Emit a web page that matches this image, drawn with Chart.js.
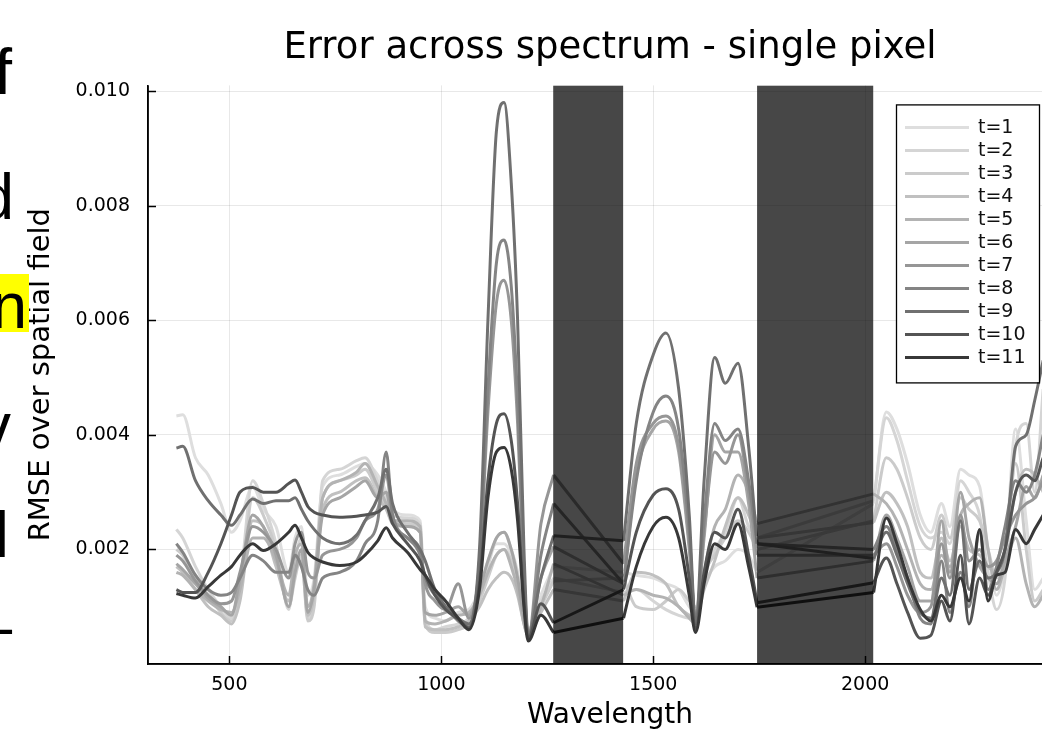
<!DOCTYPE html>
<html>
<head>
<meta charset="utf-8">
<script src="https://cdn.jsdelivr.net/npm/chart.js@4.4.1/dist/chart.umd.min.js"></script>
<style>
  html, body { margin: 0; padding: 0; background: #fff; overflow: hidden; width: 1042px; height: 735px; position: relative; }
  #wrap { position: absolute; left: 0; top: 0; width: 1072px; height: 735px; }
  .cut { position: absolute; font-family: 'Liberation Sans', 'DejaVu Sans', sans-serif; font-size: 64px; line-height: 1; color: #000; white-space: nowrap; }
  .hl { position: absolute; left: 0; top: 274px; width: 29px; height: 58px; background: #ffff00; }
</style>
</head>
<body>
<div id="wrap"><canvas id="c" width="1072" height="735"></canvas></div>
<div class="hl"></div>
<div class="cut" style="right:1030px; top:40px;">f</div>
<div class="cut" style="right:1028px; top:165px;">d</div>
<div class="cut" style="right:1015px; top:274px;">n</div>
<div class="cut" style="right:1031px; top:394px;">v</div>
<div class="cut" style="right:1033px; top:503px;">l</div>
<div class="cut" style="right:1030px; top:594px;">–</div>
<script>
// ---------------- data (RMSE values in units of 0.001) ----------------
const wavelengths = [375,390,420,450,480,505,525,555,580,610,640,655,670,685,700,720,760,800,820,850,870,885,920,950,962,985,1010,1040,1065,1090,1110,1130,1148,1165,1180,1195,1205,1235,1265,1430,1460,1500,1530,1560,1585,1600,1620,1645,1670,1700,1725,1745,2020,2050,2075,2100,2130,2155,2180,2200,2225,2245,2270,2290,2310,2330,2355,2380,2400,2420];

const t1 = [4.33,4.35,3.6,3.3,2.8,2.3,2.5,3.1,2.7,2.4,1.6,2.2,2.4,1.2,1.5,3.1,3.3,3.45,3.5,3.3,3.0,2.7,2.6,2.5,1.0,0.8,0.75,0.9,0.95,1.3,1.8,2.1,2.1,1.9,1.5,0.8,0.6,1.2,1.7,1.6,1.55,1.5,1.4,1.3,1.0,0.9,1.4,1.7,1.8,2.0,1.9,1.6,2.8,4.4,4.1,3.5,2.6,2.3,2.8,2.4,3.4,3.3,3.1,2.0,1.2,1.8,4.1,2.5,1.3,1.5];
const t2 = [2.35,2.2,1.7,1.3,1.0,0.8,1.4,3.2,2.8,2.1,0.95,1.8,2.2,0.8,1.1,3.2,3.4,3.55,3.6,3.2,2.9,2.6,2.55,2.45,0.8,0.6,0.65,0.7,0.8,1.2,1.7,2.2,2.3,2.0,1.6,0.9,0.6,1.1,1.5,1.25,1.3,1.1,0.95,0.85,0.8,0.85,1.5,2.0,2.3,2.9,2.4,2.2,2.85,4.3,3.9,3.2,2.4,2.2,2.3,2.1,3.2,3.0,2.6,1.6,0.95,1.5,3.8,4.2,3.0,4.8];
const t3 = [2.0,1.9,1.5,1.2,0.9,0.75,1.2,2.9,2.6,2.0,1.0,1.5,1.9,0.75,1.0,2.9,3.2,3.3,3.4,3.0,2.75,2.5,2.45,2.35,0.7,0.55,0.55,0.6,0.7,1.1,1.5,1.9,2.0,1.8,1.4,0.8,0.55,1.0,1.45,1.5,1.0,0.95,1.1,1.3,1.1,1.0,1.6,1.9,2.2,2.5,2.3,2.0,2.5,3.6,3.4,2.9,2.2,2.0,2.6,2.2,2.9,2.7,2.5,2.0,1.5,1.9,3.5,2.0,1.1,1.3];
const t4 = [1.7,1.6,1.3,1.0,0.85,0.7,1.1,2.5,2.4,1.7,1.1,1.6,1.8,0.85,1.2,2.7,3.0,3.2,3.25,2.9,2.7,2.45,2.4,2.3,0.65,0.6,0.6,0.65,0.75,1.0,1.3,1.5,1.6,1.5,1.2,0.7,0.5,0.9,1.3,1.1,1.6,1.55,1.4,1.0,0.85,0.8,1.3,1.8,2.4,2.9,2.6,2.2,2.47,3.0,2.8,2.4,1.6,1.5,2.2,1.8,2.4,2.0,1.9,1.7,1.6,2.0,3.0,3.4,3.3,3.0];
const t5 = [1.6,1.55,1.3,1.1,0.95,0.9,1.3,2.2,2.2,1.8,1.2,1.9,2.1,1.0,1.4,2.9,3.2,3.35,3.5,3.1,2.8,2.5,2.5,2.4,0.75,0.7,0.75,0.85,0.9,1.2,1.6,1.9,2.0,1.7,1.3,0.7,0.5,1.0,1.75,1.2,1.3,1.2,1.15,1.0,0.8,0.7,1.6,2.4,2.7,3.3,3.0,2.45,2.97,2.8,2.5,2.0,1.4,1.3,1.9,1.7,2.6,2.8,2.9,2.0,1.3,1.7,2.2,1.4,1.0,1.2];
const t6 = [1.75,1.65,1.4,1.15,1.0,0.85,1.5,2.6,2.4,1.9,1.0,1.6,2.0,0.9,1.3,2.6,2.9,3.1,3.2,2.9,3.0,2.5,2.4,2.3,0.9,0.85,0.9,1.0,0.85,1.3,1.8,2.2,2.3,2.0,1.5,0.8,0.5,1.5,2.05,1.4,3.3,4.1,4.24,3.7,2.0,0.8,2.2,4.0,3.7,3.7,2.8,1.5,1.8,2.6,2.2,1.7,1.1,1.1,2.5,1.6,3.0,2.2,1.7,1.5,1.4,1.8,2.4,3.1,2.9,3.3];
const t7 = [1.9,1.8,1.45,1.2,1.05,1.1,1.6,2.4,2.3,2.0,1.5,2.1,2.3,1.6,1.5,1.9,2.0,2.2,2.5,2.7,3.3,2.6,2.2,2.0,1.4,1.1,0.95,1.4,0.8,1.7,4.4,6.3,6.7,6.0,4.2,1.5,0.45,2.45,3.3,1.75,3.5,4.2,4.33,3.8,2.1,0.75,2.3,3.7,3.5,4.0,3.0,1.9,1.9,2.1,1.7,1.2,0.9,1.0,2.1,1.5,2.6,1.8,2.0,1.7,1.8,2.2,2.6,2.8,2.9,3.2];
const t8 = [2.1,1.95,1.55,1.3,1.2,1.25,1.5,1.9,1.8,1.6,1.6,1.9,1.7,1.3,1.2,1.5,1.6,1.8,2.1,2.5,3.7,2.6,2.2,1.9,1.5,1.2,1.0,0.75,0.65,1.8,4.8,7.0,7.4,6.6,4.6,1.6,0.5,1.9,2.8,1.4,3.2,4.4,4.68,4.1,2.3,0.7,2.5,4.2,3.9,4.1,3.2,2.1,2.0,2.4,2.0,1.5,0.8,0.7,1.8,0.9,1.6,1.0,2.3,1.3,1.7,2.4,3.2,3.0,3.3,4.0];
const t9 = [3.77,3.8,3.2,2.85,2.6,2.42,2.6,2.88,2.8,2.85,2.85,2.9,2.7,2.5,2.35,2.2,2.1,2.25,2.5,2.9,3.4,2.8,2.3,2.0,1.8,1.3,1.0,0.8,0.7,2.0,6.0,9.3,9.8,8.4,6.0,2.0,0.5,1.5,2.24,2.15,4.2,5.4,5.78,4.8,2.6,0.7,3.2,5.35,4.9,5.25,3.8,2.1,1.84,2.3,1.9,1.4,0.9,0.8,1.5,1.2,2.5,1.3,1.8,1.5,1.6,2.0,3.8,4.0,4.6,5.3];
const t10 = [1.3,1.25,1.25,1.6,2.1,2.6,3.0,3.08,3.0,3.0,3.15,3.21,3.0,2.75,2.65,2.6,2.56,2.58,2.6,2.65,2.75,2.45,2.1,1.8,1.55,1.2,0.95,0.78,0.63,1.4,3.2,4.2,4.37,3.9,2.8,1.1,0.45,1.05,0.72,1.3,2.3,2.95,3.06,2.7,1.5,0.6,1.6,2.3,2.2,2.7,1.9,1.07,1.42,1.85,1.4,0.9,0.45,0.5,1.1,0.75,1.9,0.7,1.5,1.2,1.6,2.0,3.0,3.3,3.2,3.6];
const t11 = [1.23,1.2,1.15,1.35,1.55,1.7,1.9,2.1,1.98,2.1,2.3,2.42,2.2,1.95,1.85,1.78,1.72,1.78,1.9,2.15,2.38,2.2,1.95,1.65,1.55,1.3,1.1,0.8,0.6,1.3,2.9,3.7,3.78,3.4,2.5,1.0,0.4,0.85,0.55,0.8,1.7,2.4,2.56,2.2,1.2,0.55,1.4,2.1,2.0,2.45,1.7,0.99,1.25,2.55,2.1,1.5,0.95,0.75,1.2,1.0,1.5,1.1,2.35,1.1,1.55,1.6,2.35,2.1,2.35,2.6];

const seriesValues = [t1, t2, t3, t4, t5, t6, t7, t8, t9, t10, t11];
const seriesNames = ['t=1','t=2','t=3','t=4','t=5','t=6','t=7','t=8','t=9','t=10','t=11'];
const seriesColors = ['#dedede','#d5d5d5','#cbcbcb','#c0c0c0','#b3b3b3','#a5a5a5','#969696','#848484','#707070','#545454','#383838'];

const xTicks = [500, 1000, 1500, 2000];
const yTicks = [0.002, 0.004, 0.006, 0.008, 0.010];
const bandStarts = [1264, 1745];
const bandEnds = [1429, 2019];

const FONT = "'DejaVu Sans', sans-serif";

// Build points; a null is placed inside each shaded band so the curve is split there
// (the band-crossing part is drawn as a straight segment by the plugin below).
const gapAfter = [];   // indices (in wavelengths) of the last point before each band
wavelengths.forEach((w, j) => {
  if (j < wavelengths.length - 1) {
    bandStarts.forEach((s, b) => {
      if (w <= bandEnds[b] && wavelengths[j + 1] > bandEnds[b] && w >= s - 5) gapAfter.push(j);
    });
  }
});
function buildPoints(vals) {
  const pts = [];
  wavelengths.forEach((w, j) => {
    pts.push({ x: w, y: vals[j] / 1000 });
    if (gapAfter.includes(j)) pts.push({ x: (w + wavelengths[j + 1]) / 2, y: null });
  });
  return pts;
}

const datasets = seriesValues.map((vals, i) => ({
  label: seriesNames[i],
  data: buildPoints(vals),
  borderColor: seriesColors[i],
  backgroundColor: seriesColors[i],
  borderWidth: 3,
  pointRadius: 0,
  fill: false,
  spanGaps: false,
  cubicInterpolationMode: 'monotone',
  order: seriesValues.length - i
}));

const decor = {
  id: 'decor',
  afterDatasetsDraw(chart) {
    const { ctx, chartArea: a, scales: { x, y } } = chart;
    ctx.save();
    ctx.beginPath();
    ctx.rect(a.left, a.top, a.right - a.left, a.bottom - a.top);
    ctx.clip();
    // straight connections across the shaded bands (t=1 first, t=11 last)
    chart.data.datasets.forEach((ds, i) => {
      const meta = chart.getDatasetMeta(i);
      ctx.strokeStyle = ds.borderColor;
      ctx.lineWidth = ds.borderWidth;
      ds.data.forEach((p, k) => {
        if (p.y === null) {
          const p0 = meta.data[k - 1], p1 = meta.data[k + 1];
          ctx.beginPath(); ctx.moveTo(p0.x, p0.y); ctx.lineTo(p1.x, p1.y); ctx.stroke();
        }
      });
    });
    // shaded spans
    ctx.fillStyle = 'rgba(0,0,0,0.72)';
    bandStarts.forEach((s, i) => {
      const x0 = x.getPixelForValue(s), x1 = x.getPixelForValue(bandEnds[i]);
      ctx.fillRect(x0, a.top, x1 - x0, a.bottom - a.top);
    });
    ctx.restore();
    ctx.save();
    // axes frame (left and bottom) redrawn on top
    ctx.strokeStyle = '#000';
    ctx.lineWidth = 1.5;
    ctx.beginPath();
    ctx.moveTo(a.left, a.top); ctx.lineTo(a.left, a.bottom); ctx.lineTo(a.right, a.bottom);
    ctx.stroke();
    // inward tick marks
    xTicks.forEach(v => {
      const px = Math.round(x.getPixelForValue(v)) + 0.5;
      ctx.beginPath(); ctx.moveTo(px, a.bottom); ctx.lineTo(px, a.bottom - 8); ctx.stroke();
    });
    yTicks.forEach(v => {
      const py = Math.round(y.getPixelForValue(v)) + 0.5;
      ctx.beginPath(); ctx.moveTo(a.left, py); ctx.lineTo(a.left + 8, py); ctx.stroke();
    });
    ctx.restore();
  },
  afterDraw(chart) {
    const ctx = chart.ctx;
    const a = chart.chartArea;
    ctx.save();
    // legend box inside plot, top-right
    const lx0 = a.right - 176, ly0 = a.top + 19, lw = 143, lh = 278;
    ctx.fillStyle = '#fff';
    ctx.fillRect(lx0, ly0, lw, lh);
    ctx.strokeStyle = '#000';
    ctx.lineWidth = 1.3;
    ctx.strokeRect(lx0 + 0.5, ly0 + 0.5, lw, lh);
    ctx.font = '19px ' + FONT;
    ctx.textBaseline = 'middle';
    ctx.textAlign = 'left';
    seriesNames.forEach((n, i) => {
      const yy = ly0 + 23 + 23 * i;
      ctx.strokeStyle = seriesColors[i];
      ctx.lineWidth = 3;
      ctx.beginPath(); ctx.moveTo(lx0 + 9, yy); ctx.lineTo(lx0 + 73, yy); ctx.stroke();
      ctx.fillStyle = '#111';
      ctx.fillText(n, lx0 + 82, yy + 1);
    });
    ctx.restore();
  }
};

new Chart(document.getElementById('c'), {
  type: 'line',
  data: { datasets },
  options: {
    responsive: false,
    animation: false,
    devicePixelRatio: 1,
    layout: { padding: 0 },
    plugins: {
      legend: { display: false },
      tooltip: { enabled: false },
      title: {
        display: true,
        text: 'Error across spectrum - single pixel',
        fullSize: false,
        color: '#000',
        font: { family: FONT, size: 37, weight: 'normal' },
        padding: { top: 26, bottom: 15 }
      }
    },
    scales: {
      x: {
        type: 'linear',
        min: 308,
        max: 2488,
        afterFit(s) { s.height = 71; },
        afterBuildTicks(s) { s.ticks = xTicks.map(v => ({ value: v })); },
        grid: { color: 'rgba(0,0,0,0.09)', lineWidth: 1, drawTicks: false },
        border: { color: '#000', width: 1.5 },
        ticks: { color: '#000', font: { family: FONT, size: 19 }, padding: 10, maxRotation: 0, callback: v => String(v) },
        title: { display: true, text: 'Wavelength', color: '#000', font: { family: FONT, size: 28 }, padding: { top: 0, bottom: 2 } }
      },
      y: {
        type: 'linear',
        min: 0,
        max: 0.0101,
        afterFit(s) { s.width = 148; },
        afterBuildTicks(s) { s.ticks = yTicks.map(v => ({ value: v })); },
        grid: { color: 'rgba(0,0,0,0.09)', lineWidth: 1, drawTicks: false },
        border: { color: '#000', width: 1.5 },
        ticks: { color: '#000', font: { family: FONT, size: 19 }, padding: 18, callback: v => v.toFixed(3) },
        title: { display: true, text: 'RMSE over spatial field', color: '#000', font: { family: FONT, size: 29 }, padding: { top: 24, bottom: 0 } }
      }
    }
  },
  plugins: [decor]
});
</script>
</body>
</html>
